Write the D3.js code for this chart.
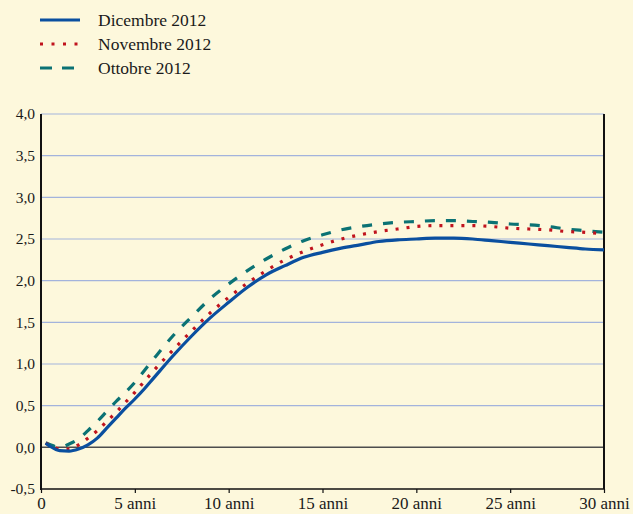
<!DOCTYPE html>
<html>
<head>
<meta charset="utf-8">
<script src="https://cdn.jsdelivr.net/npm/d3@7"></script>
<style>
  html, body { margin: 0; padding: 0; background: #fdf8dc; }
  svg { display: block; }
  text { font-family: "Liberation Serif", "DejaVu Serif", serif; fill: #1a1a1a; }
</style>
</head>
<body>
<script>
// Maturities (years) and yield-curve values (percent)
const maturities = [0.25, 0.5, 1, 1.5, 2, 2.5, 3, 3.5, 4, 4.5, 5, 5.5, 6, 7, 8, 9, 10, 11, 12, 13, 14, 15,
  16, 17, 18, 19, 20, 21, 22, 23, 24, 25, 26, 27, 28, 29, 30];

const dicembre = [0.05, 0.01, -0.04, -0.045, -0.02, 0.03, 0.11, 0.23, 0.35, 0.47, 0.58, 0.70, 0.83, 1.09, 1.33, 1.55, 1.74, 1.92, 2.07, 2.18, 2.28, 2.34,
  2.39, 2.43, 2.47, 2.49, 2.50, 2.51, 2.51, 2.50, 2.48, 2.46, 2.44, 2.42, 2.40, 2.38, 2.37];

const novembre = [0.05, 0.02, -0.02, -0.02, 0.03, 0.11, 0.20, 0.31, 0.42, 0.54, 0.66, 0.79, 0.92, 1.16, 1.39, 1.61, 1.80, 1.97, 2.12, 2.25, 2.35, 2.43,
  2.50, 2.55, 2.59, 2.62, 2.65, 2.66, 2.66, 2.66, 2.65, 2.63, 2.62, 2.61, 2.59, 2.58, 2.56];

const ottobre = [0.055, 0.03, 0.0, 0.04, 0.10, 0.20, 0.31, 0.43, 0.55, 0.66, 0.78, 0.92, 1.06, 1.33, 1.56, 1.78, 1.96, 2.12, 2.26, 2.38, 2.48, 2.55,
  2.61, 2.65, 2.68, 2.70, 2.71, 2.72, 2.72, 2.71, 2.70, 2.68, 2.67, 2.65, 2.62, 2.60, 2.58];

const seriesNames = ["Dicembre 2012", "Novembre 2012", "Ottobre 2012"];
const yTicks = [-0.5, 0, 0.5, 1, 1.5, 2, 2.5, 3, 3.5, 4];
const xTicks = [0, 5, 10, 15, 20, 25, 30];
const xTickLabels = ["0", "5 anni", "10 anni", "15 anni", "20 anni", "25 anni", "30 anni"];

const W = 633, H = 514;
const margin = { left: 41, right: 29, top: 114, bottom: 25 };

const svg = d3.select("body").append("svg").attr("width", W).attr("height", H);
svg.append("rect").attr("width", W).attr("height", H).attr("fill", "#fdf8dc");

const x = d3.scaleLinear().domain([0, 30]).range([margin.left, W - margin.right]);
const y = d3.scaleLinear().domain([-0.5, 4]).range([H - margin.bottom, margin.top]);

const fmt = v => d3.format(".1f")(v).replace(".", ",").replace("−", "-");

// horizontal gridlines
svg.append("g").selectAll("line")
  .data(yTicks.filter(v => v > 0))
  .join("line")
  .attr("x1", x(0)).attr("x2", x(30))
  .attr("y1", d => y(d)).attr("y2", d => y(d))
  .attr("stroke", "#a3b3dc").attr("stroke-width", 1.2);

// zero line
svg.append("line")
  .attr("x1", x(0)).attr("x2", x(30))
  .attr("y1", y(0)).attr("y2", y(0))
  .attr("stroke", "#4d4d4d").attr("stroke-width", 1.5);

// y axis labels
svg.append("g").selectAll("text")
  .data(yTicks)
  .join("text")
  .attr("x", x(0) - 6)
  .attr("y", d => y(d))
  .attr("dy", "0.35em")
  .attr("text-anchor", "end")
  .attr("font-size", 15.5)
  .text(d => fmt(d));

// x axis
const xAxis = d3.axisBottom(x)
  .tickValues(xTicks)
  .tickSize(4)
  .tickFormat((d, i) => xTickLabels[i]);
const gx = svg.append("g").attr("transform", `translate(0,${y(-0.5)})`).call(xAxis);
gx.select(".domain").remove();
gx.selectAll(".tick line").attr("stroke", "#111").attr("stroke-width", 1.2);
gx.selectAll(".tick text")
  .attr("font-family", "Liberation Serif, serif")
  .attr("font-size", 17)
  .attr("fill", "#1a1a1a")
  .attr("y", 20)
  .attr("dy", 0);

// frame: left, bottom, right
svg.append("line").attr("x1", x(0)).attr("x2", x(0)).attr("y1", y(4)).attr("y2", y(-0.5) + 1)
  .attr("stroke", "#111").attr("stroke-width", 2);
svg.append("line").attr("x1", x(0)).attr("x2", x(30)).attr("y1", y(-0.5)).attr("y2", y(-0.5))
  .attr("stroke", "#111").attr("stroke-width", 1.5);
svg.append("line").attr("x1", x(30)).attr("x2", x(30)).attr("y1", y(4)).attr("y2", y(-0.5))
  .attr("stroke", "#111").attr("stroke-width", 2);

// curves
const series = [
  { name: seriesNames[0], values: dicembre, color: "#0a4f9f", dash: null },
  { name: seriesNames[1], values: novembre, color: "#c0131d", dash: "3,8" },
  { name: seriesNames[2], values: ottobre, color: "#0b7274", dash: "10,11" }
];

const line = d3.line()
  .x(d => x(d[0]))
  .y(d => y(d[1]))
  .curve(d3.curveMonotoneX);

// draw back-to-front so the December curve is on top
[2, 1, 0].forEach(i => {
  const s = series[i];
  svg.append("path")
    .datum(maturities.map((m, j) => [m, s.values[j]]))
    .attr("d", line)
    .attr("fill", "none")
    .attr("stroke", s.color)
    .attr("stroke-width", 3.2)
    .attr("stroke-dasharray", s.dash);
});

// legend
const legendY = [20, 44, 68];
const lg = svg.append("g");
series.forEach((s, i) => {
  lg.append("line")
    .attr("x1", 40).attr("x2", 80)
    .attr("y1", legendY[i]).attr("y2", legendY[i])
    .attr("stroke", s.color).attr("stroke-width", 3.2)
    .attr("stroke-dasharray", s.dash ? (i === 1 ? "3,8.5" : "12,10") : null);
  lg.append("text")
    .attr("x", 98).attr("y", legendY[i])
    .attr("dy", "0.35em")
    .attr("font-size", 17.5)
    .text(s.name);
});
</script>
</body>
</html>
